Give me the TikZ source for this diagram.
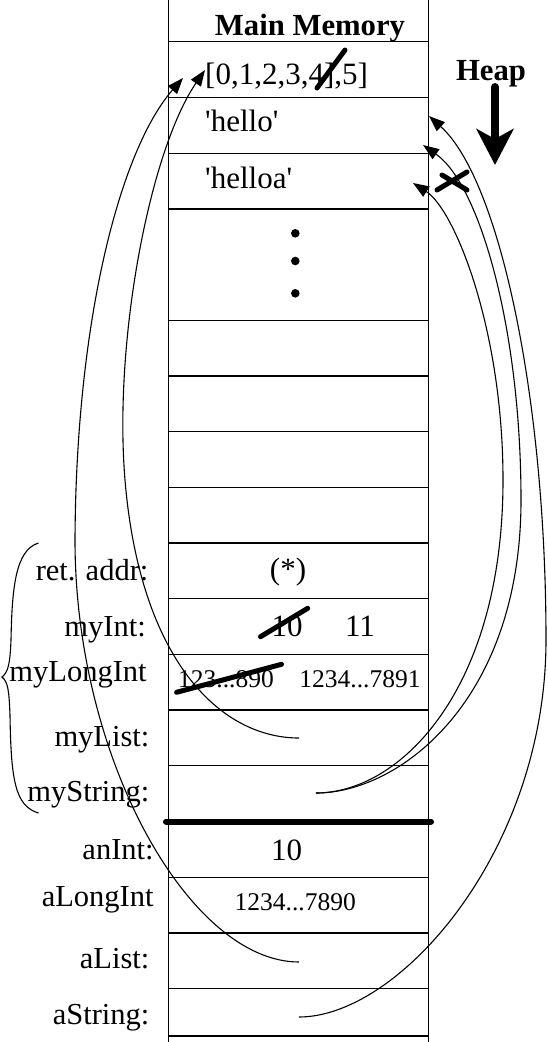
\documentclass[tikz,border=0pt]{standalone}
\usepackage{fontspec}
\setmainfont{Liberation Serif}
\usetikzlibrary{arrows.meta}
\newcommand\sq{\textquotesingle}

\begin{document}
\begin{tikzpicture}[x=1pt,y=-1pt,
    cell/.style={inner sep=0pt,anchor=base,font=\fontsize{31}{36}\selectfont},
    small/.style={inner sep=0pt,anchor=base,font=\fontsize{25.5}{30}\selectfont},
    lbl/.style={inner sep=0pt,anchor=base east,font=\fontsize{30.5}{36}\selectfont},
    hd/.style={inner sep=0pt,anchor=base,font=\fontsize{30.7}{36}\selectfont\bfseries},
    ptr/.style={line width=1.1pt,-{Triangle[length=16pt,width=12pt]}},
    strike/.style={line width=5pt,line cap=round}]
  \useasboundingbox (0,0) rectangle (548,1042);
  % memory column
  \draw[line width=1.3pt] (168.5,0) -- (168.5,1042) (428.5,0) -- (428.5,1042);
  \foreach \y in {41.7,97.3,153.2,209,320.3,376,431.7,487.4,543,598.7,654.4,710,765.8,877.3,933,988.8,1036}
    \draw[line width=1.3pt] (168.5,\y) -- (428.5,\y);
  \draw[line width=6pt,line cap=round] (166,821.5) -- (431,821.5);
  \node[hd] (mm) at (310,35) {Main Memory};
  \node[hd] (heap) at (491,80) {Heap};
  % heap contents
  \node[cell,anchor=base west] (lst) at (205,84) {[0,1,2,3,4],5]};
  \node[cell,anchor=base west] (hello) at (205,131.5) {\sq hello\sq};
  \node[cell,anchor=base west] (helloa) at (205,188.5) {\sq helloa\sq};
  \foreach \y in {233.3,261,293.3}
    \fill (295.3,\y) circle[radius=4.3];
  % stack contents
  \node[cell] (ret) at (288,579) {(*)};
  \node[cell] (oldInt) at (287,636.7) {10};
  \node[cell] (newInt) at (360,636.7) {11};
  \node[small] (oldLong) at (226,687.5) {123...890};
  \node[small] (newLong) at (360,687) {1234...7891};
  \node[cell] (aInt) at (286.7,860) {10};
  \node[small] (aLong) at (295.3,910) {1234...7890};
  \foreach \nm/\txt/\x/\y in {lRet/ret. addr:/148.6/580,lMyInt/myInt:/146/636.7,lMyLong/myLongInt/146.9/681.7,
      lMyList/myList:/149.6/746.7,lMyStr/myString:/149.6/801.7,lAInt/anInt:/153.8/859.3,
      lALong/aLongInt/153.8/906,lAList/aList:/149.6/968.3,lAStr/aString:/149.6/1024}
    \node[lbl] (\nm) at (\x,\y) {\txt};
  % crossed out values
  \draw[strike] (317,88) -- (345,50);
  \draw[strike] (260.5,636.7) -- (307.7,608.3);
  \draw[strike] (176.6,692.3) -- (281.5,664.3);
  \draw[strike] (437,190) -- (467,172) (442,175) -- (467,190);
  % heap grows down
  \coordinate (heapTop) at (495,87);
  \coordinate (heapEnd) at (495,165);
  \draw[line width=8pt,line cap=round,-{Stealth[length=36pt,width=37pt,inset=10pt]}] (heapTop) -- (heapEnd);
  % frame brace
  \draw[line width=1.1pt] (38.5,543) .. controls (15,550) and (12,590) .. (11,640)
    .. controls (10,665) and (8,672) .. (2,677) .. controls (8,682) and (9,690) .. (10,715)
    .. controls (11,780) and (15,806) .. (38.5,813);
  % pointers
  \coordinate (srcAList) at (299,962);
  \coordinate (srcMyList) at (299,738);
  \coordinate (srcAStr) at (299,1017);
  \coordinate (srcMyStr) at (316,793);
  \coordinate (tipA) at (183,78);
  \coordinate (tipB) at (205,70);
  \coordinate (tipHello) at (429,116);
  \coordinate (tipOld) at (423,145);
  \coordinate (tipHelloa) at (413,183);
  \draw[ptr] (srcAList) .. controls (190,962) and (75,760) .. (75,540)
    .. controls (76,320) and (120,150) .. (tipA);
  \draw[ptr] (srcMyList) .. controls (220,738) and (140,660) .. (125,480)
    .. controls (113.4,340) and (150,150) .. (tipB);
  \draw[ptr] (srcAStr) .. controls (400,1017) and (546,850) .. (546,640)
    .. controls (546,400) and (500,180) .. (tipHello);
  \draw[ptr] (srcMyStr) .. controls (400,793) and (521,700) .. (521,500)
    .. controls (521,330) and (480,185) .. (tipOld);
  \draw[ptr] (srcMyStr) .. controls (400,793) and (503,690) .. (503,480)
    .. controls (503,330) and (455,210) .. (tipHelloa);
\end{tikzpicture}
\end{document}
